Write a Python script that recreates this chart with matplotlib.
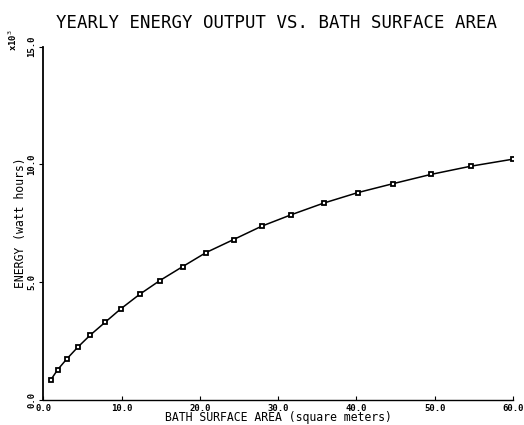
import numpy as np
import matplotlib
matplotlib.use("Agg")
import matplotlib.pyplot as plt

# bath surface area (square meters) and yearly energy output (x10^3 watt hours)
area = [0.95, 1.84, 2.99, 4.39, 6.0, 7.92, 9.88, 12.3, 14.9, 17.8,
        20.8, 24.3, 27.9, 31.7, 35.8, 40.2, 44.7, 49.5, 54.6, 60.0]
energy = [0.83, 1.27, 1.72, 2.22, 2.74, 3.29, 3.85, 4.47, 5.06, 5.65,
          6.25, 6.80, 7.37, 7.86, 8.35, 8.80, 9.18, 9.57, 9.92, 10.22]

xticks = [0, 10, 20, 30, 40, 50, 60]
yticks = [0, 5, 10, 15]

fig = plt.figure(figsize=(5.24, 4.25), dpi=100)
ax = fig.add_axes([0.0826, 0.06, 0.979 - 0.0826, 0.89 - 0.06])

ax.plot(area, energy, color='black', lw=1.1, marker='s', markersize=3.2,
        mfc='white', mec='black', mew=1.3)

ax.set_xlim(0, 60)
ax.set_ylim(0, 15)
ax.set_xticks(xticks)
ax.set_yticks(yticks)
ax.set_xticklabels(['%.1f' % t for t in xticks], fontsize=6.5, fontweight='bold',
                   family='DejaVu Sans Mono')
ax.set_yticklabels(['%.1f' % t for t in yticks], fontsize=6.5, fontweight='bold',
                   family='DejaVu Sans Mono', rotation=90, va='center')

for s in ['top', 'right']:
    ax.spines[s].set_visible(False)
ax.spines['left'].set_linewidth(1.3)
ax.spines['bottom'].set_linewidth(1.0)
ax.tick_params(axis='x', direction='in', length=3, pad=3)
ax.tick_params(axis='y', direction='out', length=3, pad=2)

ax.set_xlabel('BATH SURFACE AREA (square meters)', fontsize=8.3,
              family='DejaVu Sans Mono', labelpad=-1)
ax.set_ylabel('ENERGY (watt hours)', fontsize=8.3, family='DejaVu Sans Mono',
              labelpad=0)

fig.text(0.527, 0.947, 'YEARLY ENERGY OUTPUT VS. BATH SURFACE AREA', ha='center',
         va='center', fontsize=12.5, family='DejaVu Sans Mono')
fig.text(0.012, 0.905, r'x10$^3$', rotation=90, ha='left', va='center',
         fontsize=6.5, fontweight='bold', family='DejaVu Sans Mono')

fig.savefig('out.png', dpi=100)
